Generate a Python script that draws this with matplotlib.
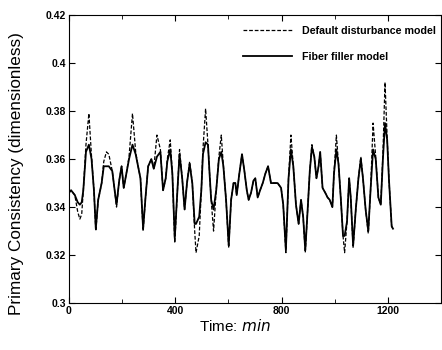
import matplotlib
matplotlib.use("Agg")
from matplotlib import pyplot as plt
from matplotlib.ticker import MultipleLocator

plt.rcParams.update({"font.family": ["Liberation Sans", "DejaVu Sans"]})

# time knots (min)
time_min = [0, 8, 22, 33, 41, 48, 54, 64, 75, 85, 94, 101, 110, 123, 131, 141,
            150, 163, 173, 179, 189, 198, 206, 216, 226, 239, 251, 260, 269,
            279, 288, 298, 310, 319, 331, 344, 354, 364, 370, 381, 389, 398,
            408, 416, 426, 435, 444, 454, 464, 473, 478, 490, 498, 504, 514,
            523, 529, 535, 544, 554, 564, 573, 581, 591, 601, 610, 619, 626,
            631, 641, 651, 660, 669, 676, 685, 694, 701, 710, 719, 729, 739,
            749, 760, 772, 785, 798, 806, 816, 826, 835, 844, 854, 864, 873,
            881, 889, 898, 906, 914, 923, 931, 939, 945, 954, 964, 973, 981,
            991, 997, 1006, 1014, 1023, 1031, 1037, 1046, 1054, 1060, 1069,
            1079, 1089, 1098, 1106, 1116, 1126, 1135, 1144, 1154, 1164, 1173,
            1181, 1189, 1197, 1204, 1214, 1219]

default_model = [0.346, 0.347, 0.345, 0.338, 0.335, 0.337, 0.347, 0.366, 0.379,
                 0.361, 0.347, 0.330, 0.343, 0.350, 0.359, 0.363, 0.362, 0.355,
                 0.346, 0.340, 0.351, 0.357, 0.348, 0.354, 0.361, 0.379, 0.363,
                 0.357, 0.352, 0.330, 0.344, 0.357, 0.360, 0.356, 0.370, 0.364,
                 0.347, 0.352, 0.360, 0.368, 0.354, 0.325, 0.347, 0.364, 0.352,
                 0.339, 0.350, 0.359, 0.350, 0.330, 0.321, 0.328, 0.347, 0.364,
                 0.381, 0.366, 0.354, 0.343, 0.330, 0.347, 0.361, 0.370, 0.357,
                 0.343, 0.323, 0.343, 0.350, 0.350, 0.345, 0.354, 0.362, 0.355,
                 0.347, 0.343, 0.346, 0.351, 0.352, 0.344, 0.347, 0.350, 0.354,
                 0.357, 0.350, 0.350, 0.350, 0.348, 0.341, 0.321, 0.352, 0.370,
                 0.357, 0.341, 0.333, 0.343, 0.336, 0.321, 0.339, 0.355, 0.366,
                 0.361, 0.352, 0.357, 0.363, 0.348, 0.346, 0.344, 0.343, 0.340,
                 0.354, 0.370, 0.358, 0.343, 0.328, 0.321, 0.334, 0.352, 0.344,
                 0.323, 0.339, 0.352, 0.361, 0.352, 0.339, 0.329, 0.348, 0.375,
                 0.361, 0.344, 0.341, 0.362, 0.392, 0.369, 0.351, 0.332, 0.331]

fiber_model = [0.346, 0.347, 0.345, 0.342, 0.341, 0.342, 0.347, 0.363, 0.366,
               0.360, 0.347, 0.331, 0.343, 0.350, 0.357, 0.357, 0.357, 0.355,
               0.346, 0.341, 0.351, 0.357, 0.348, 0.354, 0.360, 0.366, 0.362,
               0.357, 0.352, 0.331, 0.344, 0.357, 0.360, 0.356, 0.361, 0.363,
               0.347, 0.352, 0.359, 0.364, 0.354, 0.327, 0.347, 0.362, 0.352,
               0.339, 0.350, 0.358, 0.350, 0.333, 0.333, 0.336, 0.347, 0.362,
               0.367, 0.366, 0.354, 0.343, 0.339, 0.347, 0.360, 0.363, 0.357,
               0.343, 0.324, 0.343, 0.350, 0.350, 0.345, 0.354, 0.362, 0.355,
               0.347, 0.343, 0.346, 0.351, 0.352, 0.344, 0.347, 0.350, 0.354,
               0.357, 0.350, 0.350, 0.350, 0.348, 0.341, 0.322, 0.352, 0.364,
               0.357, 0.341, 0.333, 0.343, 0.336, 0.322, 0.339, 0.355, 0.365,
               0.361, 0.352, 0.357, 0.363, 0.348, 0.346, 0.344, 0.343, 0.340,
               0.354, 0.364, 0.358, 0.343, 0.328, 0.328, 0.334, 0.352, 0.344,
               0.324, 0.339, 0.352, 0.360, 0.352, 0.339, 0.330, 0.348, 0.364,
               0.360, 0.344, 0.341, 0.360, 0.375, 0.368, 0.351, 0.332, 0.331]

fig = plt.figure(figsize=(4.42, 3.5), dpi=100)
ax = fig.add_axes([0.156, 0.134, 0.842, 0.823])

ax.plot(time_min, default_model, color="black", linestyle=(0, (3, 1.5)),
        linewidth=0.9, label="Default disturbance model")
ax.plot(time_min, fiber_model, color="black", linestyle="-",
        linewidth=1.3, label="Fiber filler model")

ax.set_xlim(0, 1400)
ax.set_ylim(0.3, 0.42)
ax.set_xticks([0, 400, 800, 1200])
ax.xaxis.set_minor_locator(MultipleLocator(200))
ax.set_yticks([0.3, 0.32, 0.34, 0.36, 0.38, 0.4, 0.42])
ax.set_yticklabels(["0.3", "0.32", "0.34", "0.36", "0.38", "0.4", "0.42"])
ax.tick_params(which="both", direction="in", top=True, right=True,
               labelsize=7.5, length=4, pad=2)
ax.tick_params(which="minor", length=3)
for lbl in ax.get_xticklabels() + ax.get_yticklabels():
    lbl.set_fontweight("bold")

ax.set_ylabel("Primary Consistency (dimensionless)", fontsize=12.3)
ax.yaxis.set_label_coords(-0.121, 0.451)
ax.set_xlabel("Time: $\\it{min}$", fontsize=11)
ax.xaxis.set_label_coords(0.446, -0.052)

leg = ax.legend(loc="upper left", bbox_to_anchor=(0.468, 0.962), frameon=False,
                fontsize=7.7, handlelength=4.6, labelspacing=1.5,
                handletextpad=0.9, borderpad=0, borderaxespad=0)
for t in leg.get_texts():
    t.set_fontweight("bold")

fig.savefig("out.png", dpi=100)
